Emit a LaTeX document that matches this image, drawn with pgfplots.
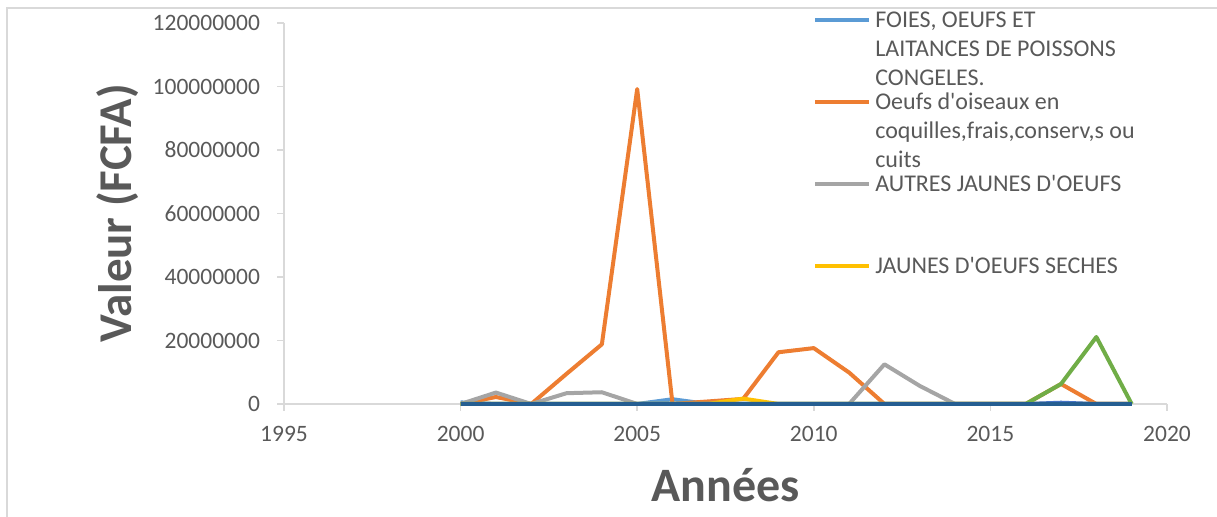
\documentclass[border=0pt]{standalone}
\usepackage{fontspec}
\setmainfont{Carlito}
\usepackage{pgfplots}
\pgfplotsset{compat=1.18}
\definecolor{txt}{HTML}{595959}
\definecolor{axgray}{HTML}{D9D9D9}
\definecolor{xlblue}{HTML}{5B9BD5}
\definecolor{xlorange}{HTML}{ED7D31}
\definecolor{xlgray}{HTML}{A5A5A5}
\definecolor{xlyellow}{HTML}{FFC000}
\definecolor{xlblue2}{HTML}{4472C4}
\definecolor{xlgreen}{HTML}{70AD47}
\definecolor{xldark}{HTML}{255E91}

\begin{document}
\begin{tikzpicture}
% chart frame (left and top edges only are visible)
\draw[axgray, line width=0.8pt] (3.5pt,0pt) -- (3.5pt,254.5pt) -- (608.5pt,254.5pt);
\begin{axis}[
  at={(142pt,56.5pt)}, anchor=south west,
  scale only axis, width=441.5pt, height=190.5pt,
  xmin=1995, xmax=2020, ymin=0, ymax=120000000,
  axis x line*=bottom, axis y line*=left,
  axis line style={axgray, line width=0.8pt},
  tick style={axgray, line width=0.8pt},
  tick align=outside, major tick length=3.5pt,
  clip=false,
  scaled y ticks=false,
  xtick={1995,2000,2005,2010,2015,2020},
  ytick={0,20000000,40000000,60000000,80000000,100000000,120000000},
  yticklabels={0,20000000,40000000,60000000,80000000,100000000,120000000},
  x tick label style={/pgf/number format/1000 sep={}, yshift=-4pt},
  y tick label style={xshift=-5pt},
  /pgf/number format/assume math mode=true,
  tick label style={font=\fontsize{11.75}{14}\selectfont, text=txt},
  xlabel={Années},
  ylabel={Valeur (FCFA)},
  xlabel style={font=\bfseries\fontsize{24}{28}\selectfont, text=txt,
    at={(axis description cs:0.5,-0.257)}, anchor=base},
  ylabel style={font=\bfseries\fontsize{23.5}{28}\selectfont, text=txt,
    at={(axis description cs:-0.188,0.5)}, anchor=center},
  legend style={at={(0.599,1.041)}, anchor=north west, draw=none, fill=none,
    inner sep=0pt, row sep=27.3pt, column sep=0pt,
    cells={anchor=base west, inner sep=0pt},
    font=\fontsize{12}{14.5}\selectfont, text=txt},
  legend image code/.code={\draw[#1, line width=2pt] (0pt,3.8pt) -- (27pt,3.8pt);},
  every axis plot/.append style={line width=2pt, line join=round},
]
\addplot[xlblue] coordinates {
  (2000,500000) (2001,0) (2002,0) (2003,0) (2004,0) (2005,0) (2006,1500000)
  (2007,0) (2008,0) (2009,0) (2010,0) (2011,0) (2012,0) (2013,0) (2014,0)
  (2015,0) (2016,0) (2017,0) (2018,0) (2019,0)
};
\addlegendentry{\parbox[t]{150pt}{FOIES, OEUFS ET\\LAITANCES DE POISSONS\\CONGELES.}}
\addplot[xlorange] coordinates {
  (2000,0) (2001,2200000) (2002,0) (2003,9500000) (2004,18800000) (2005,99200000)
  (2006,0) (2007,800000) (2008,1600000) (2009,16300000) (2010,17600000)
  (2011,9900000) (2012,0) (2013,0) (2014,0) (2015,0) (2016,0) (2017,6300000)
  (2018,0) (2019,0)
};
\addlegendentry{\parbox[t]{150pt}{Oeufs d\textquotesingle oiseaux en\\coquilles,frais,conserv,s ou\\cuits}}
\addplot[xlgray] coordinates {
  (2000,0) (2001,3600000) (2002,0) (2003,3400000) (2004,3700000) (2005,0)
  (2006,0) (2007,0) (2008,0) (2009,0) (2010,0) (2011,0) (2012,12500000)
  (2013,5700000) (2014,0) (2015,0) (2016,0) (2017,0) (2018,0) (2019,0)
};
\addlegendentry{\parbox[t]{150pt}{AUTRES JAUNES D\textquotesingle OEUFS}}
\addplot[xlyellow] coordinates {
  (2000,0) (2001,0) (2002,0) (2003,0) (2004,0) (2005,0) (2006,0) (2007,0)
  (2008,1700000) (2009,0) (2010,0) (2011,0) (2012,0) (2013,0) (2014,0)
  (2015,0) (2016,0) (2017,0) (2018,0) (2019,0)
};
\addlegendentry{\parbox[t]{150pt}{JAUNES D\textquotesingle OEUFS SECHES}}
\addplot[xlblue2, forget plot] coordinates {
  (2000,0) (2001,0) (2002,0) (2003,0) (2004,0) (2005,0) (2006,0) (2007,0)
  (2008,0) (2009,0) (2010,0) (2011,0) (2012,0) (2013,0) (2014,0) (2015,0)
  (2016,0) (2017,400000) (2018,0) (2019,0)
};
\addplot[xlgreen, forget plot] coordinates {
  (2000,0) (2001,0) (2002,0) (2003,0) (2004,0) (2005,0) (2006,0) (2007,0)
  (2008,0) (2009,0) (2010,0) (2011,0) (2012,0) (2013,0) (2014,0) (2015,0)
  (2016,0) (2017,6300000) (2018,21100000) (2019,0)
};
\addplot[xldark, forget plot] coordinates {
  (2000,0) (2001,0) (2002,0) (2003,0) (2004,0) (2005,0) (2006,0) (2007,0)
  (2008,0) (2009,0) (2010,0) (2011,0) (2012,0) (2013,0) (2014,0) (2015,0)
  (2016,0) (2017,0) (2018,0) (2019,0)
};
\end{axis}
\pgfresetboundingbox
\path (0pt,0pt) rectangle (608.5pt,258.5pt);
\end{tikzpicture}
\end{document}
